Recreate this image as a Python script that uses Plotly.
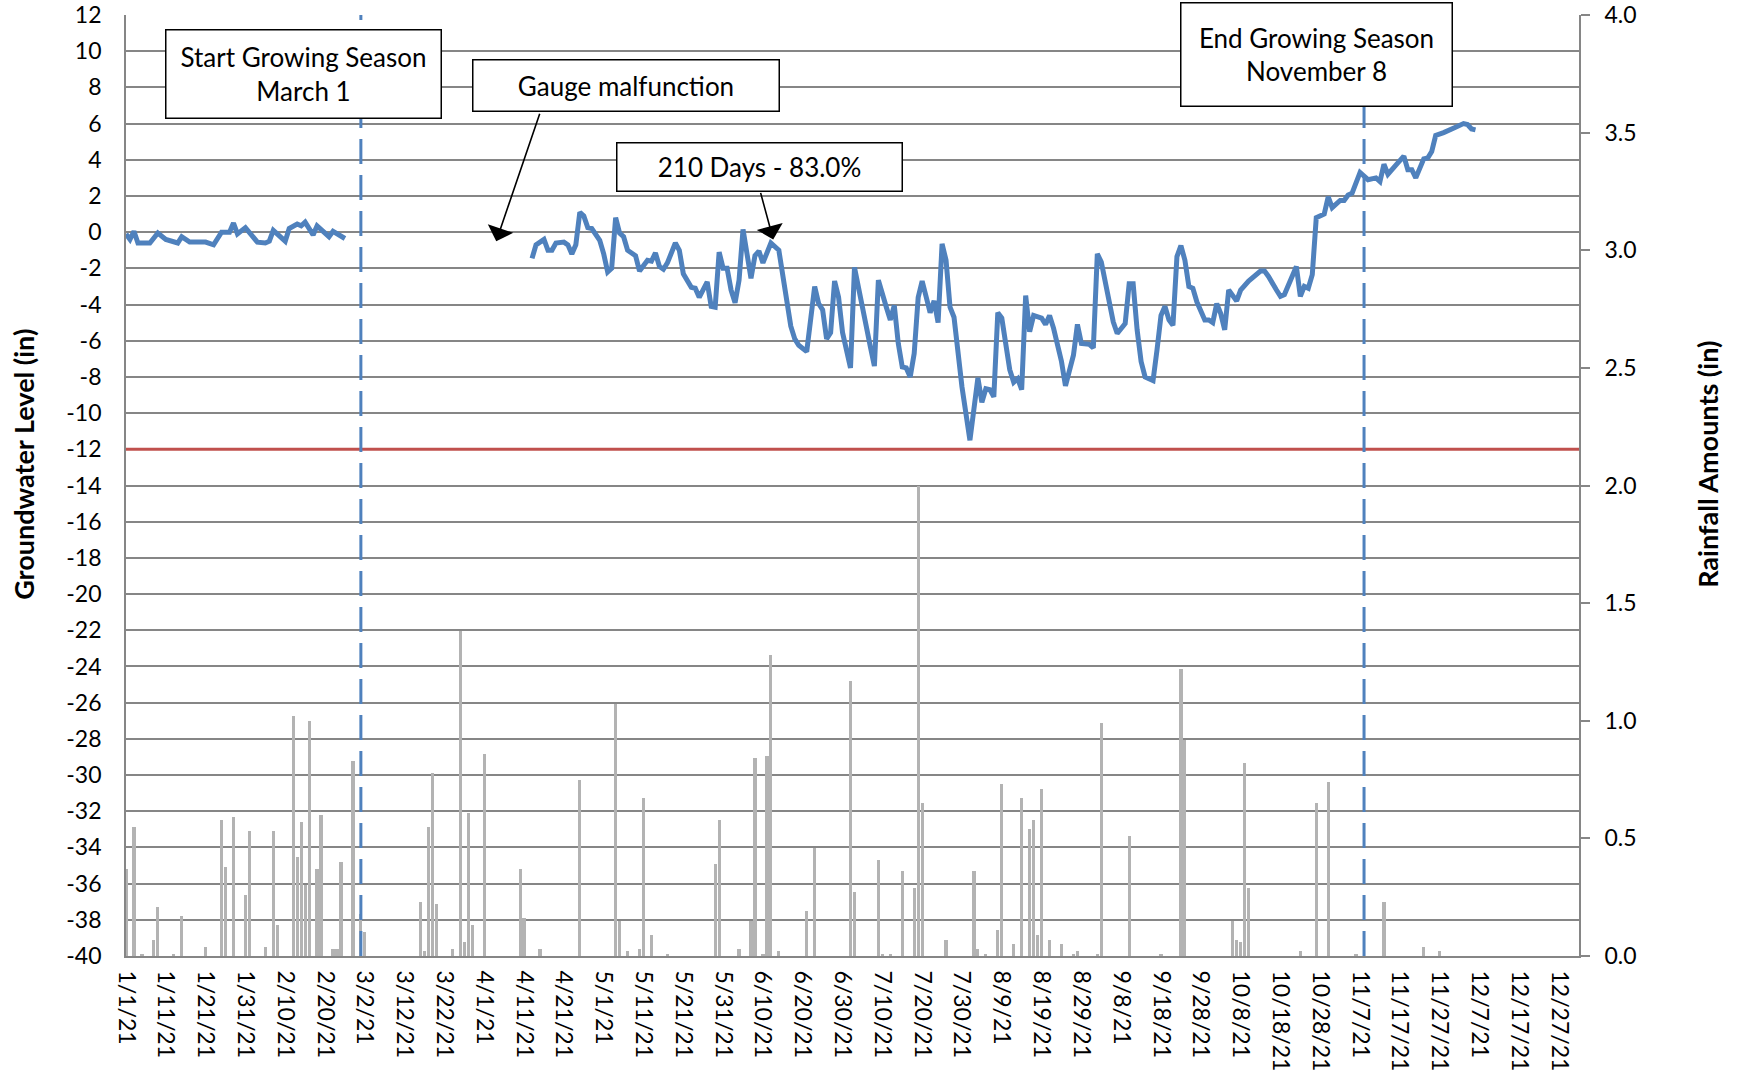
import pandas as pd
import plotly.graph_objects as go

BASE = pd.Timestamp("2021-01-01")
BLUE = "#4F81BD"
GRID = "#868686"
FONT = "Lato"

# groundwater level (in), day offsets from 1/1/21
gw_days_winter = [0, 1, 2, 3, 6, 8, 10, 13, 14, 16, 20, 22, 24, 26, 27, 28, 30, 33, 35, 36, 37,
                  40, 41, 43, 44, 45, 47, 48, 51, 52, 55]
gw_vals_winter = [-0.1, -0.4, 0.05, -0.6, -0.6, -0.05, -0.4, -0.6, -0.25, -0.55, -0.55, -0.7, 0.0, 0.0, 0.5,
                  -0.1, 0.25, -0.55, -0.6, -0.5, 0.1, -0.5, 0.2, 0.45, 0.35, 0.55, -0.15, 0.35, -0.25, 0.05, -0.35]

gw_days_season = [102, 103, 105, 106, 107, 108, 110, 111, 112, 113, 114, 115, 116, 117, 119, 120, 121, 122,
                  123, 124, 125, 126, 128, 129, 131, 132, 133, 134, 135, 136, 138, 139, 140, 142, 143, 144,
                  146, 147, 148, 149, 150, 151, 152, 153, 154, 155, 156, 157, 158, 159, 160, 162, 164, 165,
                  167, 168, 169, 171, 172, 173, 174, 175, 176, 177, 178, 179, 180, 182, 183, 184, 185, 187,
                  188, 189, 190, 191, 192, 193, 194, 195, 196, 197, 198, 199, 200, 202, 203, 204, 205, 206,
                  207, 208, 210, 212, 214, 215, 216, 217, 218, 219, 220, 222, 223, 224, 225, 226, 227, 228,
                  230, 231, 232, 233, 235, 236, 238, 239, 240, 242, 243, 244, 245, 246, 248, 249, 251, 252,
                  253, 254, 255, 256, 258, 259, 260, 261, 262, 263, 264, 265, 266, 267, 268, 269, 271, 272,
                  273, 274, 275, 276, 277, 279, 280, 282, 285, 286, 287, 289, 290, 291, 292, 294, 295, 296,
                  297, 298, 299, 301, 302, 303, 305, 306, 307, 308, 310, 312, 314, 315, 316, 317, 319, 321,
                  322, 323, 324, 326, 327, 328, 329, 331, 334, 336, 337, 338, 339]
gw_vals_season = [-1.45, -0.7, -0.4, -1.0, -1.0, -0.6, -0.55, -0.7, -1.2, -0.7, 1.1, 0.9, 0.25, 0.2, -0.45,
                  -1.2, -2.2, -2.0, 0.8, -0.05, -0.25, -1.0, -1.3, -2.15, -1.55, -1.6, -1.15, -1.9, -2.05,
                  -1.7, -0.6, -1.0, -2.3, -3.05, -3.1, -3.6, -2.75, -4.1, -4.15, -1.1, -2.0, -2.0, -3.2, -3.9,
                  -2.65, 0.15, -1.2, -2.55, -1.3, -1.05, -1.7, -0.6, -1.0, -2.45, -5.2, -5.9, -6.25, -6.6,
                  -4.85, -3.0, -3.95, -4.3, -5.9, -5.55, -2.7, -3.6, -5.55, -7.5, -1.95, -3.2, -4.15, -6.35,
                  -7.4, -2.65, -3.3, -4.15, -4.85, -4.05, -6.15, -7.45, -7.5, -8.0, -6.7, -3.6, -2.7, -4.45,
                  -3.8, -5.0, -0.65, -1.55, -4.15, -4.7, -8.55, -11.5, -8.05, -9.4, -8.65, -8.7, -9.1, -4.45,
                  -4.75, -7.6, -8.3, -8.1, -8.7, -3.5, -5.5, -4.6, -4.75, -5.1, -4.6, -5.3, -7.15, -8.5, -6.8,
                  -5.1, -6.15, -6.2, -6.4, -1.2, -1.65, -2.65, -4.95, -5.6, -5.05, -2.85, -2.85, -5.4, -7.15,
                  -8.0, -8.2, -6.5, -4.6, -4.1, -4.85, -5.15, -1.35, -0.75, -1.55, -3.0, -3.1, -3.85, -4.85,
                  -4.85, -5.0, -3.95, -4.5, -5.4, -3.2, -3.8, -3.2, -2.7, -2.15, -2.15, -2.45, -3.2, -3.55,
                  -3.45, -2.9, -1.9, -3.55, -3.0, -3.1, -2.35, 0.8, 1.0, 1.95, 1.35, 1.75, 1.75, 2.05, 2.15,
                  3.3, 2.9, 3.0, 2.8, 3.75, 3.2, 3.7, 4.2, 3.45, 3.45, 3.0, 4.05, 4.1, 4.45, 5.35, 5.5, 5.8,
                  6.0, 5.95, 5.7, 5.65]

# daily rainfall (in)
rain_days = [0, 2, 4, 7, 8, 12, 14, 20, 24, 25, 27, 30, 31, 35, 37, 38, 42, 43, 44, 45, 46, 48, 49, 52, 53,
             54, 57, 59, 60, 74, 75, 76, 77, 78, 82, 84, 85, 86, 87, 90, 99, 100, 104, 114, 123, 124, 126,
             129, 130, 132, 136, 148, 149, 154, 157, 158, 160, 161, 162, 164, 171, 173, 182, 183, 189, 190,
             192, 195, 198, 199, 200, 206, 213, 214, 216, 219, 220, 223, 225, 227, 228, 229, 230, 232, 235,
             238, 239, 244, 245, 252, 260, 265, 266, 278, 279, 280, 281, 282, 295, 299, 302, 309, 316, 326, 330]
rain_vals = [0.37, 0.55, 0.01, 0.07, 0.21, 0.01, 0.17, 0.04, 0.58, 0.38, 0.59, 0.26, 0.53, 0.04, 0.53, 0.13,
             1.02, 0.42, 0.57, 0.30, 1.0, 0.37, 0.60, 0.03, 0.03, 0.40, 0.83, 0.18, 0.10, 0.23, 0.02, 0.55,
             0.78, 0.22, 0.03, 1.38, 0.06, 0.61, 0.13, 0.86, 0.37, 0.16, 0.03, 0.75, 1.07, 0.15, 0.02, 0.03,
             0.67, 0.09, 0.01, 0.39, 0.58, 0.03, 0.15, 0.84, 0.01, 0.85, 1.28, 0.02, 0.19, 0.46, 1.17, 0.27,
             0.41, 0.01, 0.01, 0.36, 0.29, 2.0, 0.65, 0.07, 0.36, 0.03, 0.01, 0.11, 0.73, 0.05, 0.67, 0.54,
             0.58, 0.09, 0.71, 0.07, 0.05, 0.01, 0.02, 0.01, 0.99, 0.51, 0.01, 1.22, 0.92, 0.15, 0.07, 0.06,
             0.82, 0.29, 0.02, 0.65, 0.74, 0.01, 0.23, 0.04, 0.02]

gw_ticks = list(range(-40, 13, 2))

THRESHOLD = -12
SEASON_START = "2021-03-01"
SEASON_END = "2021-11-08"


def to_dates(days):
    return list(BASE + pd.to_timedelta(days, unit="D"))


gw_x = to_dates(gw_days_winter) + [BASE + pd.Timedelta(days=80)] + to_dates(gw_days_season)
gw_y = gw_vals_winter + [None] + gw_vals_season

fig = go.Figure()
fig.add_bar(x=to_dates(rain_days), y=rain_vals, yaxis="y2", name="Rainfall",
            marker=dict(color="#B3B3B3", line=dict(width=0)), width=0.8 * 86400000)
fig.add_scatter(x=gw_x, y=gw_y, mode="lines", name="Groundwater", connectgaps=False,
                line=dict(color=BLUE, width=5))

fig.add_shape(type="line", xref="paper", x0=0, x1=1, yref="y", y0=THRESHOLD, y1=THRESHOLD,
              line=dict(color="#C0504D", width=3), layer="above")
for d in (SEASON_START, SEASON_END):
    fig.add_shape(type="line", xref="x", x0=d, x1=d, yref="paper", y0=0, y1=1,
                  line=dict(color=BLUE, width=3, dash="25px,11px"), layer="above")

box = dict(xref="paper", yref="paper", xanchor="center", yanchor="middle", showarrow=False,
           bgcolor="white", bordercolor="black", borderwidth=1.5, borderpad=0,
           font=dict(family=FONT, size=26, color="black"))
fig.add_annotation(text="Start Growing Season<br>March 1", x=0.1224, y=0.9375, width=274, height=87, **box)
fig.add_annotation(text="Gauge malfunction", x=0.344, y=0.9247, width=305, height=50, **box)
fig.add_annotation(text="210 Days - 83.0%", x=0.4361, y=0.8382, width=284, height=47, **box)
fig.add_annotation(text="End Growing Season<br>November 8", x=0.819, y=0.9585, width=270, height=102, **box)

arrow = dict(xref="x", yref="y", axref="pixel", ayref="pixel", text="", showarrow=True,
             arrowhead=1, arrowsize=2.8, arrowwidth=1.6, arrowcolor="black")
fig.add_annotation(x="2021-04-04", y=-0.5, ax=44, ay=-129, **arrow)
fig.add_annotation(x="2021-06-12 14:00", y=-0.4, ax=-13, ay=-48, **arrow)

title = dict(xref="paper", yref="paper", showarrow=False, textangle=-90, xanchor="center", yanchor="middle",
             font=dict(family=FONT, size=27, color="black"))
fig.add_annotation(text="<b>Groundwater Level (in)</b>", x=-0.0702, y=0.523, **title)
fig.add_annotation(text="<b>Rainfall Amounts (in)</b>", x=1.0888, y=0.522, **title)

fig.update_layout(
    width=1738, height=1084, template="plotly_white", showlegend=False,
    margin=dict(l=126, r=159, t=15, b=128, autoexpand=False),
    paper_bgcolor="white", plot_bgcolor="white",
    font=dict(family=FONT, size=23, color="black"),
    xaxis=dict(type="date", range=["2021-01-01", "2022-01-01"], tick0="2021-01-01", dtick=10 * 86400000,
               tickformat="%-m/%-d/%y", tickangle=90, showgrid=False, zeroline=False,
               showline=True, linecolor=GRID, linewidth=1.8, ticklabelstandoff=8,
               tickfont=dict(family=FONT, size=23)),
    yaxis=dict(range=[-40, 12], tickvals=gw_ticks, ticktext=[str(v) for v in gw_ticks],
               showgrid=True, gridcolor=GRID, gridwidth=1.8, zeroline=False,
               showline=True, linecolor=GRID, linewidth=1.8, ticklabelstandoff=18,
               ticklabeloverflow="allow", tickfont=dict(family=FONT, size=23)),
    yaxis2=dict(range=[0, 4], dtick=0.5, tickformat=".1f", overlaying="y", side="right", showgrid=False,
                zeroline=False, showline=True, linecolor=GRID, linewidth=1.8, ticks="outside", ticklen=9,
                tickcolor=GRID, tickwidth=1.8, ticklabelstandoff=10, ticklabeloverflow="allow",
                tickfont=dict(family=FONT, size=23)),
    bargap=0,
)

# drop the default page margin so the figure sits at the window's top-left corner
fig.write_html("out.html", config={"displayModeBar": False},
               post_script="document.body.style.margin = '0';")
